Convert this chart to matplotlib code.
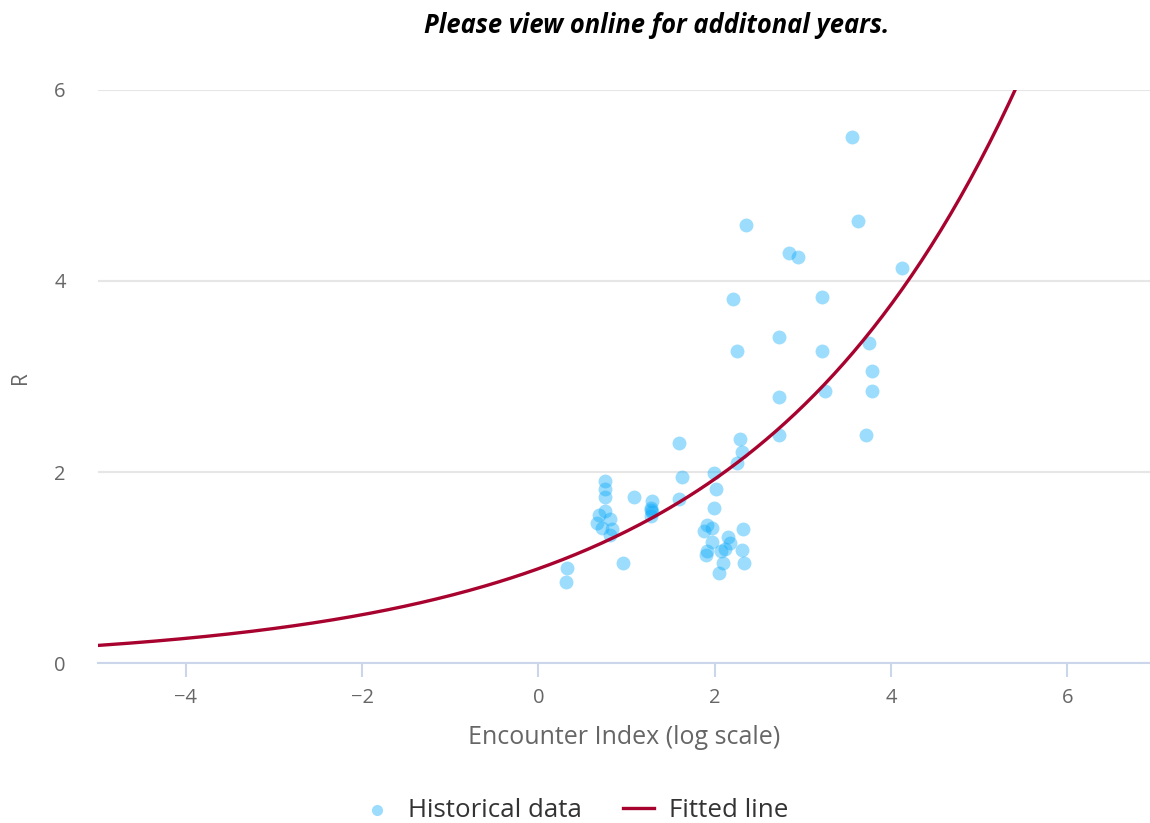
import matplotlib.pyplot as plt
import numpy as np

plt.rcParams['font.family'] = ['Open Sans', 'DejaVu Sans']

# historical data (encounter index on log scale, R)
enc_x = [0.31, 0.33, 0.96, 0.76, 0.76, 0.76, 0.76, 0.69, 0.81, 0.66, 0.72, 0.83, 0.81,
         1.08, 1.29, 1.28, 1.28, 1.29, 1.28, 1.60, 1.63, 1.60,
         1.99, 2.01, 1.99, 1.91, 1.97, 1.88, 1.97, 1.91, 1.90,
         2.05, 2.09, 2.07, 2.12, 2.17, 2.15, 2.32, 2.31, 2.33,
         2.29, 2.31, 2.25, 2.21, 2.25, 2.36,
         2.73, 2.73, 2.73, 2.84, 2.95, 3.22, 3.22, 3.25,
         3.56, 3.63, 3.72, 3.75, 3.79, 3.79, 4.13]
enc_r = [0.85, 1.00, 1.05, 1.91, 1.82, 1.74, 1.59, 1.55, 1.51, 1.47, 1.42, 1.40, 1.34,
         1.74, 1.70, 1.63, 1.60, 1.58, 1.54, 2.30, 1.95, 1.72,
         1.99, 1.82, 1.63, 1.45, 1.42, 1.38, 1.27, 1.17, 1.13,
         0.94, 1.05, 1.17, 1.20, 1.26, 1.32, 1.40, 1.19, 1.05,
         2.35, 2.21, 2.10, 3.81, 3.27, 4.59,
         3.41, 2.79, 2.39, 4.29, 4.25, 3.83, 3.27, 2.85,
         5.51, 4.63, 2.39, 3.35, 3.06, 2.85, 4.13]

# fitted line R = exp(a + b * x)
fit_a = -0.01
fit_b = 0.333
fit_x = np.linspace(-4.98, 6, 300)
fit_r = np.exp(fit_a + fit_b * fit_x)

fig = plt.figure(figsize=(11.5, 8.23), dpi=100)
ax = fig.add_axes([0.085, 0.194, 0.915, 0.697])

ax.scatter(enc_x, enc_r, s=100, color='#08a8fa', alpha=0.4, linewidths=0,
           label='Historical data', zorder=3)
ax.plot(fit_x, fit_r, color='#a8022f', lw=2.4, label='Fitted line', zorder=4)

ax.set_xlim(-5, 6.94)
ax.set_ylim(0, 6)
ax.set_xticks([-4, -2, 0, 2, 4, 6])
ax.set_xticklabels(['\u22124', '\u22122', '0', '2', '4', '6'])
ax.set_yticks([0, 2, 4, 6])

for s in ['top', 'right', 'left']:
    ax.spines[s].set_visible(False)
ax.spines['bottom'].set_color('#ccd6eb')
ax.spines['bottom'].set_linewidth(1.5)
ax.grid(axis='y', color='#e6e6e6', lw=1.5)
ax.set_axisbelow(True)
ax.tick_params(axis='x', colors='#ccd6eb', length=10, width=1.5, labelcolor='#666666',
               labelsize=14.5, pad=8)
ax.tick_params(axis='y', length=0, labelcolor='#666666', labelsize=14.5, pad=23)

ax.set_xlabel('Encounter Index (log scale)', color='#666666', fontsize=18, labelpad=12)
fig.text(20 / 1150, 1 - 378 / 823, 'R', rotation=90, ha='center', va='center',
         color='#666666', fontsize=15)

fig.text(0.571, 0.969, 'Please view online for additonal years.', ha='center', va='center',
         fontsize=18.4, fontweight='bold', fontstyle='italic', color='black')

fig.legend(loc='center', bbox_to_anchor=(0.5, 0.015), ncol=2, frameon=False,
           fontsize=18.6, labelcolor='#333333', handlelength=1.2, handletextpad=0.6,
           columnspacing=1.6, markerscale=0.8)

fig.savefig('out.png', dpi=100)
